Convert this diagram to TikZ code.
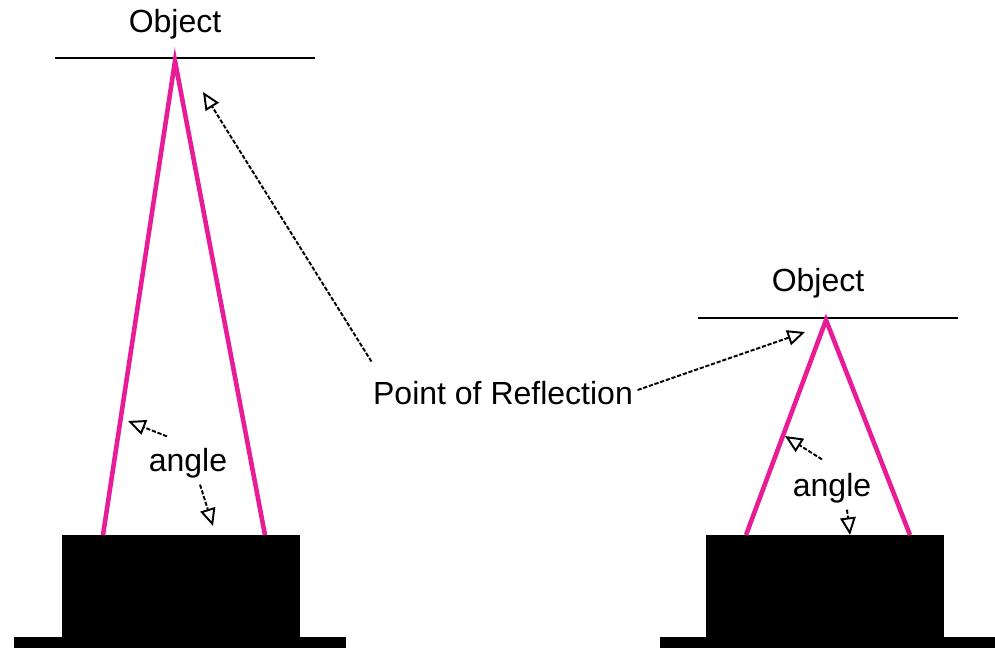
\documentclass[tikz,border=0pt]{standalone}
\usepackage{fontspec}
\setmainfont{Liberation Sans}
\usetikzlibrary{arrows.meta}
\definecolor{beamcol}{RGB}{232,28,150}

\begin{document}
\begin{tikzpicture}[
    x=0.01cm, y=-0.01cm,
    lbl/.style={font=\fontsize{9.1}{11}\selectfont, inner sep=0pt},
    beam/.style={draw=beamcol, line width=1.3pt},
    surf/.style={line width=0.6pt},
    ptr/.style={-{Triangle[open, length=5pt, width=4.4pt]}, dash pattern=on 1.2pt off 0.5pt, line width=0.55pt}
]
    \useasboundingbox (0,0) rectangle (995,648);

    % 1. Left set-up (object far away)
    \node[lbl] (objL) at (175,24) {Object};
    \draw[surf] (55,58) -- (315,58);
    \coordinate (apexL) at (175,61);
    \coordinate (footLa) at (103,535);
    \coordinate (footLb) at (265,535);
    \fill (62,535) rectangle (300,648);
    \fill (14,637) rectangle (346,648);
    \draw[beam] (footLa) -- (apexL) -- (footLb);

    % 2. Right set-up (object close)
    \node[lbl] (objR) at (818,283) {Object};
    \draw[surf] (698,318) -- (958,318);
    \coordinate (apexR) at (826,320);
    \coordinate (footRa) at (746,535);
    \coordinate (footRb) at (910,535);
    \fill (706,535) rectangle (944,648);
    \fill (660,637) rectangle (995,648);
    \draw[beam] (footRa) -- (apexR) -- (footRb);

    % 3. Shared label
    \node[lbl] (refl) at (503,393) {Point of Reflection};
    \coordinate (hitL) at (203,92);
    \coordinate (hitR) at (805,332);
    \draw[ptr] ([shift={(-1,-19)}]refl.north west) -- (hitL);
    \draw[ptr] ([shift={(4,-3)}]refl.east) -- (hitR);

    % 4. Angle labels
    \node[lbl] (angL) at (188,463) {angle};
    \coordinate (sideL) at (128,421);
    \coordinate (midL) at (213,526);
    \draw[ptr] ([shift={(-21,-11)}]angL.north) -- (sideL);
    \draw[ptr] ([shift={(12,6)}]angL.south) -- (midL);

    \node[lbl] (angR) at (832,488) {angle};
    \coordinate (sideR) at (785,436);
    \coordinate (midR) at (850,535);
    \draw[ptr] ([shift={(-10,-13)}]angR.north) -- (sideR);
    \draw[ptr] ([shift={(15,6)}]angR.south) -- (midR);

\end{tikzpicture}
\end{document}
